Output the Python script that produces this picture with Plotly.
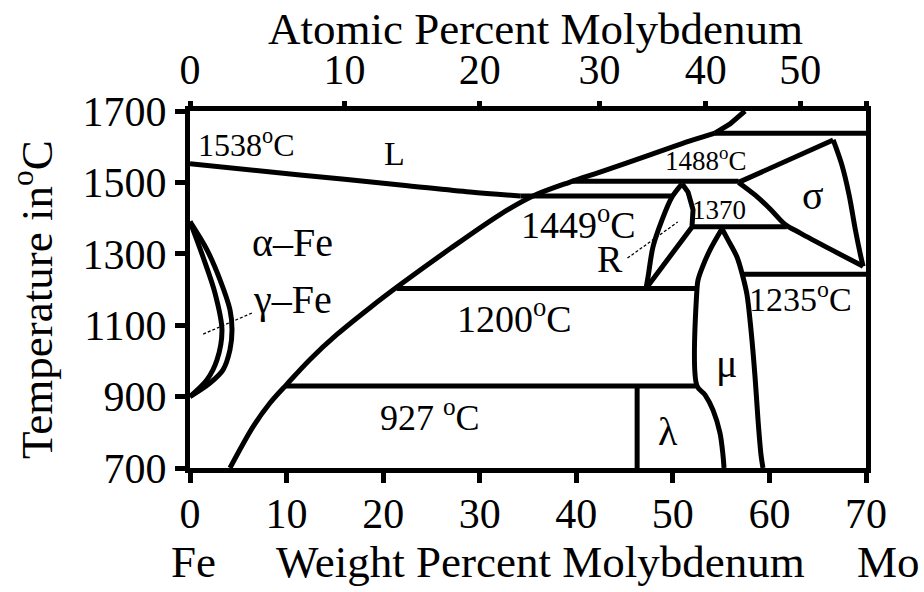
import plotly.graph_objects as go

# ---------------- data (wt% Mo, temperature in degC) ----------------
fe_liquidus_wt = [0, 11.4, 21.8, 29.0, 34.2]
fe_liquidus_T = [1552, 1521, 1493, 1473, 1462]

line_1449_wt = [34.2, 49.9]
line_1449_T = [1462, 1462]

alpha_curve_wt = [4.14, 6.52, 8.28, 10.04, 12.43, 15.22, 18.64, 21.75, 26.92, 32.10, 35.52,
                  39.35, 42.46, 47.63, 51.78, 54.36]
alpha_curve_T = [700, 815, 882, 935, 1004, 1074, 1149, 1213, 1314, 1410, 1462,
                 1501, 1529, 1577, 1616, 1638]

mo_liquidus_wt = [54.36, 55.92, 57.47]
mo_liquidus_T = [1638, 1664, 1700]

line_1488_wt = [39.6, 56.8]
line_1488_T = [1503, 1503]

line_top_wt = [54.36, 70]
line_top_T = [1638, 1638]

sigma_upper_wt = [56.8, 66.6]
sigma_upper_T = [1500, 1619]
sigma_lower_wt = [56.8, 58.5, 60.1, 61.6, 63.2, 66.3, 69.7]
sigma_lower_T = [1500, 1465, 1425, 1383, 1358, 1313, 1265]
sigma_right_wt = [66.6, 67.5, 68.25, 68.9, 69.4, 69.7]
sigma_right_T = [1619, 1549, 1465, 1367, 1300, 1265]

r_left_wt = [50.95, 49.91, 48.88, 47.94, 47.43, 47.22]
r_left_T = [1496, 1459, 1395, 1319, 1235, 1203]
r_right_wt = [50.95, 51.57, 52.09, 51.98, 47.22]
r_right_T = [1496, 1473, 1423, 1375, 1203]

line_1370_wt = [51.98, 61.8]
line_1370_T = [1376, 1376]

mu_left_wt = [55.09, 53.85, 53.02, 52.61, 52.50, 52.50, 53.33, 54.16, 54.88, 55.19, 55.30]
mu_left_T = [1370, 1311, 1260, 1227, 1203, 930, 905, 862, 798, 736, 700]
mu_right_wt = [55.09, 55.71, 56.64, 57.26, 57.68, 58.09, 58.51, 58.82, 59.13, 59.33]
mu_right_T = [1370, 1339, 1291, 1235, 1185, 1087, 955, 834, 736, 700]

line_1235_wt = [57.2, 70]
line_1235_T = [1243, 1243]

line_1200_wt = [21.4, 52.5]
line_1200_T = [1203, 1203]

line_927_wt = [9.9, 52.5]
line_927_T = [930, 930]

lambda_left_wt = [46.3, 46.3]
lambda_left_T = [930, 700]

gamma_outer_wt = [0, 1.76, 3.11, 4.14, 4.35, 4.14, 3.42, 2.07, 0]
gamma_outer_T = [1390, 1311, 1227, 1143, 1087, 1031, 975, 938, 900]
gamma_inner_wt = [0, 1.35, 2.59, 3.31, 2.80, 1.76, 0]
gamma_inner_T = [1390, 1291, 1190, 1087, 1003, 947, 900]

gamma_leader_wt = [6.4, 1.2]
gamma_leader_T = [1134, 1073]
r_leader_wt = [45.3, 50.5]
r_leader_T = [1288, 1389]

# axes ticks
wt_ticks = [0, 10, 20, 30, 40, 50, 60, 70]
temp_ticks = [700, 900, 1100, 1300, 1500, 1700]
at_labels = ["0", "10", "20", "30", "40", "50", ""]
at_positions_wt = [0, 16.0, 30.0, 42.4, 53.4, 63.2, 70]

# region / temperature labels: text, wt%, T, font size
labels = [
    ("1538<sup>o</sup>C", 5.9, 1610, 32),
    ("L", 21.2, 1582, 34),
    ("α–Fe", 10.6, 1333, 40),
    ("γ–Fe", 10.6, 1171, 40),
    ("1449<sup>o</sup>C", 40.2, 1389, 38),
    ("R", 43.5, 1285, 38),
    ("1488<sup>o</sup>C", 53.4, 1566, 27),
    ("1370", 54.8, 1423, 27),
    ("σ", 64.5, 1462, 40),
    ("1200<sup>o</sup>C", 33.6, 1126, 38),
    ("μ", 55.6, 994, 40),
    ("λ", 49.5, 801, 40),
    ("927 <sup>o</sup>C", 24.9, 848, 36),
    ("1235<sup>o</sup>C", 63.2, 1179, 34),
]

# ---------------- figure ----------------
FONT = "Liberation Serif"
fig = go.Figure()

solid = [
    (fe_liquidus_wt, fe_liquidus_T, "spline"),
    (line_1449_wt, line_1449_T, "linear"),
    (alpha_curve_wt, alpha_curve_T, "spline"),
    (mo_liquidus_wt, mo_liquidus_T, "linear"),
    (line_1488_wt, line_1488_T, "linear"),
    (line_top_wt, line_top_T, "linear"),
    (sigma_upper_wt, sigma_upper_T, "linear"),
    (sigma_lower_wt, sigma_lower_T, "spline"),
    (sigma_right_wt, sigma_right_T, "spline"),
    (r_left_wt, r_left_T, "spline"),
    (r_right_wt, r_right_T, "linear"),
    (line_1370_wt, line_1370_T, "linear"),
    (mu_left_wt, mu_left_T, "spline"),
    (mu_right_wt, mu_right_T, "spline"),
    (line_1235_wt, line_1235_T, "linear"),
    (line_1200_wt, line_1200_T, "linear"),
    (line_927_wt, line_927_T, "linear"),
    (lambda_left_wt, lambda_left_T, "linear"),
    (gamma_outer_wt, gamma_outer_T, "spline"),
    (gamma_inner_wt, gamma_inner_T, "spline"),
]
for xs, ys, shape in solid:
    fig.add_trace(go.Scatter(x=xs, y=ys, mode="lines",
                             line=dict(color="black", width=5, shape=shape, smoothing=0.9),
                             hoverinfo="skip"))

for xs, ys in [(gamma_leader_wt, gamma_leader_T), (r_leader_wt, r_leader_T)]:
    fig.add_trace(go.Scatter(x=xs, y=ys, mode="lines",
                             line=dict(color="black", width=1.3, dash="3px,2px"),
                             hoverinfo="skip"))

# invisible trace so the top (atomic %) axis exists
fig.add_trace(go.Scatter(x=[0, 70], y=[700, 700], xaxis="x2", mode="lines",
                         line=dict(width=0), hoverinfo="skip"))

for text, x, y, size in labels:
    fig.add_annotation(x=x, y=y, xref="x", yref="y", text=text, showarrow=False,
                       xanchor="center", yanchor="middle",
                       font=dict(family=FONT, size=size, color="black"))

# axis titles and end labels
def px_x(p):
    return (p - 190) / 676.0

def px_y(p):
    return (468 - p) / 357.0

outer_texts = [
    ("Atomic Percent Molybdenum", 535, 29, 0),
    ("Weight Percent Molybdenum", 540, 562, 0),
    ("Fe", 193, 562, 0),
    ("Mo", 888, 562, 0),
    ("Temperature in<sup>o</sup>C", 33, 300, -90),
]
for text, xp, yp, ang in outer_texts:
    fig.add_annotation(x=px_x(xp), y=px_y(yp), xref="paper", yref="paper",
                       text=text, showarrow=False, textangle=ang,
                       xanchor="center", yanchor="middle",
                       font=dict(family=FONT, size=45, color="black"))

axis_common = dict(showgrid=False, zeroline=False, ticks="outside", tickcolor="black",
                   tickwidth=5, tickfont=dict(family=FONT, size=42, color="black"))

fig.update_layout(
    width=924, height=592,
    margin=dict(l=190, r=58, t=111, b=124),
    plot_bgcolor="white", paper_bgcolor="white",
    showlegend=False,
    font=dict(family=FONT, color="black"),
    xaxis=dict(range=[0, 70], tickvals=wt_ticks, ticklen=10, showline=True,
               linecolor="black", linewidth=5, mirror=True, ticklabelstandoff=-5,
               **axis_common),
    xaxis2=dict(range=[0, 70], overlaying="x", side="top", anchor="y",
                tickvals=at_positions_wt, ticktext=at_labels, ticklen=9,
                showline=False, **axis_common),
    yaxis=dict(range=[700, 1700], tickvals=temp_ticks, ticklen=10, showline=True,
               linecolor="black", linewidth=5, mirror=True, **axis_common),
)

fig.write_html("out.html")
